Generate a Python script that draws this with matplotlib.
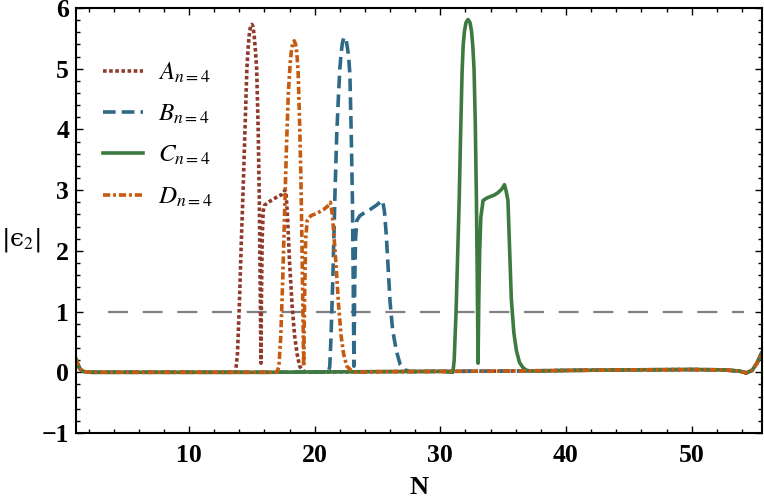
import numpy as np
import matplotlib
matplotlib.use("Agg")
import matplotlib.pyplot as plt
from matplotlib.ticker import MultipleLocator

plt.rcParams['font.family'] = ['Liberation Serif', 'DejaVu Serif']
plt.rcParams['mathtext.fontset'] = 'stix'

# shared baseline (all four curves lie on it outside their peaks)
base_N = [1.0, 1.15, 1.3, 1.5, 1.8, 2.2, 3, 5, 8, 12, 16, 20, 25, 30, 35, 40,
          45, 50, 52.5, 53.8, 54.35, 54.8, 55.2, 55.6]
base_v = [0.22, 0.13, 0.06, 0.02, 0.005, 0.0, 0.0, 0.0, 0.0, 0.0, 0.0, 0.005,
          0.01, 0.015, 0.02, 0.03, 0.04, 0.045, 0.04, 0.02, -0.01, 0.03, 0.15, 0.33]

A_N = [13.7, 13.85, 14.0, 14.15, 14.3, 14.45, 14.6, 14.72, 14.82, 14.92, 15.0, 15.08,
       15.18, 15.28, 15.38, 15.5, 15.59, 15.66, 15.72, 15.76, 15.82, 15.9, 16.0, 16.3,
       16.7, 17.1, 17.4, 17.62, 17.72, 17.85, 18.0, 18.2, 18.4, 18.6, 18.8, 19.1, 19.4]
A_v = [0.0, 0.3, 1.1, 2.1, 3.0, 4.0, 5.0, 5.4, 5.62, 5.72, 5.73, 5.7,
       5.55, 5.3, 5.0, 4.0, 2.85, 1.4, 0.15, 1.2, 2.2, 2.65, 2.75, 2.8,
       2.85, 2.9, 2.93, 3.0, 2.95, 2.5, 1.8, 1.1, 0.6, 0.3, 0.1, 0.02, 0.0]

B_N = [21.1, 21.2, 21.3, 21.45, 21.6, 21.75, 21.9, 22.0, 22.1, 22.2, 22.3, 22.4, 22.5,
       22.6, 22.7, 22.8, 22.9, 23.0, 23.06, 23.12, 23.18, 23.25, 23.35, 23.6, 23.9, 24.4,
       24.9, 25.2, 25.4, 25.55, 25.7, 25.85, 26.0, 26.2, 26.5, 26.8, 27.2, 27.6]
B_v = [0.0, 0.1, 0.6, 1.6, 2.85, 3.9, 4.6, 5.0, 5.25, 5.42, 5.5, 5.52, 5.47,
       5.35, 5.2, 4.9, 4.0, 2.85, 1.6, 0.1, 1.4, 2.2, 2.5, 2.58, 2.62, 2.68,
       2.75, 2.8, 2.83, 2.65, 2.25, 1.7, 1.15, 0.7, 0.35, 0.13, 0.04, 0.01]

C_N = [31.0, 31.1, 31.25, 31.4, 31.5, 31.62, 31.73, 31.82, 31.92, 32.04, 32.2, 32.36,
       32.48, 32.58, 32.68, 32.78, 32.87, 32.94, 33.0, 33.06, 33.13, 33.22, 33.4, 33.7,
       33.93, 34.3, 34.6, 34.9, 35.1, 35.22, 35.38, 35.5, 35.65, 35.85, 36.05, 36.3,
       36.6, 36.9, 37.3]
C_v = [0.0, 0.2, 1.0, 2.1, 2.85, 4.0, 4.95, 5.4, 5.62, 5.76, 5.81, 5.76,
       5.62, 5.38, 5.0, 4.1, 2.85, 1.5, 0.15, 1.2, 2.0, 2.55, 2.83, 2.87,
       2.89, 2.92, 2.96, 3.02, 3.09, 3.0, 2.83, 2.1, 1.2, 0.65, 0.36, 0.16,
       0.07, 0.03, 0.02]

D_N = [17.0, 17.15, 17.3, 17.45, 17.6, 17.75, 17.9, 18.05, 18.15, 18.25, 18.37, 18.48,
       18.58, 18.68, 18.8, 18.9, 18.98, 19.06, 19.12, 19.2, 19.28, 19.4, 19.7, 20.2,
       20.7, 21.0, 21.25, 21.4, 21.55, 21.75, 21.9, 22.1, 22.3, 22.55, 22.9, 23.2]
D_v = [0.0, 0.1, 0.6, 1.5, 2.6, 3.7, 4.6, 5.1, 5.3, 5.42, 5.46, 5.4,
       5.25, 4.95, 4.1, 3.2, 2.2, 1.0, 0.1, 1.3, 2.2, 2.5, 2.58, 2.62,
       2.68, 2.73, 2.8, 2.6, 2.2, 1.6, 1.1, 0.6, 0.3, 0.1, 0.03, 0.0]

# threshold reference line
thr_level = 1.0
thr_span = (3.54, 54.2)

labels = [r'$A_{n=4}$', r'$B_{n=4}$', r'$C_{n=4}$', r'$D_{n=4}$']
colors = ['#8f3a2c', '#2e6a87', '#3d7a40', '#c55a11']
styles = [(0, (1.0, 0.7)), (0, (3.5, 1.7)), '-', (0, (2.0, 0.8, 0.8, 0.8))]


def build(pN, pv):
    bN = np.array(base_N); bv = np.array(base_v)
    m = (bN < pN[0]) | (bN > pN[-1])
    N = np.concatenate([bN[m], pN]); v = np.concatenate([bv[m], pv])
    o = np.argsort(N)
    return N[o], v[o]


fig = plt.figure(figsize=(7.64, 5.01), dpi=100)
ax = fig.add_axes([76/764, 68/501, 686/764, 425/501])

ax.hlines(thr_level, thr_span[0], thr_span[1], color='#808080', lw=1.6,
          linestyles=[(0, (9.0, 6.6))], zorder=1)

series = [(A_N, A_v), (B_N, B_v), (C_N, C_v), (D_N, D_v)]
for (pN, pv), lab, col, st in zip(series, labels, colors, styles):
    N, v = build(np.array(pN), np.array(pv))
    ax.plot(N, v, color=col, lw=2.6, ls=st, label=lab, zorder=2)

ax.set_xlim(1, 55.6)
ax.set_ylim(-1, 6)
ax.xaxis.set_major_locator(MultipleLocator(10))
ax.xaxis.set_minor_locator(MultipleLocator(2))
ax.yaxis.set_major_locator(MultipleLocator(1))
ax.yaxis.set_minor_locator(MultipleLocator(0.2))
ax.tick_params(which='both', direction='in', top=True, right=True, width=1)
ax.tick_params(which='major', length=5, labelsize=18.5)
ax.tick_params(axis='x', which='major', pad=8)
ax.tick_params(axis='y', which='major', pad=5)
ax.tick_params(which='minor', length=3)
for lab in ax.get_xticklabels() + ax.get_yticklabels():
    lab.set_fontweight('bold')
for s in ax.spines.values():
    s.set_linewidth(1.5)

ax.set_xlabel('N', fontsize=19, fontweight='bold', va='center')
ax.xaxis.set_label_coords(0.5, -0.128)
ax.set_ylabel('|\u03f5$_2$|', fontsize=18, rotation=0, va='center', ha='center',
              family=['DejaVu Serif'])
ax.yaxis.set_label_coords(-0.08, 0.455)

ax.legend(loc='upper left', bbox_to_anchor=(0.025, 0.9), frameon=False,
          fontsize=18, handlelength=1.6, handletextpad=0.6, labelspacing=0.72,
          borderaxespad=0)

fig.savefig('out.png', dpi=100)
